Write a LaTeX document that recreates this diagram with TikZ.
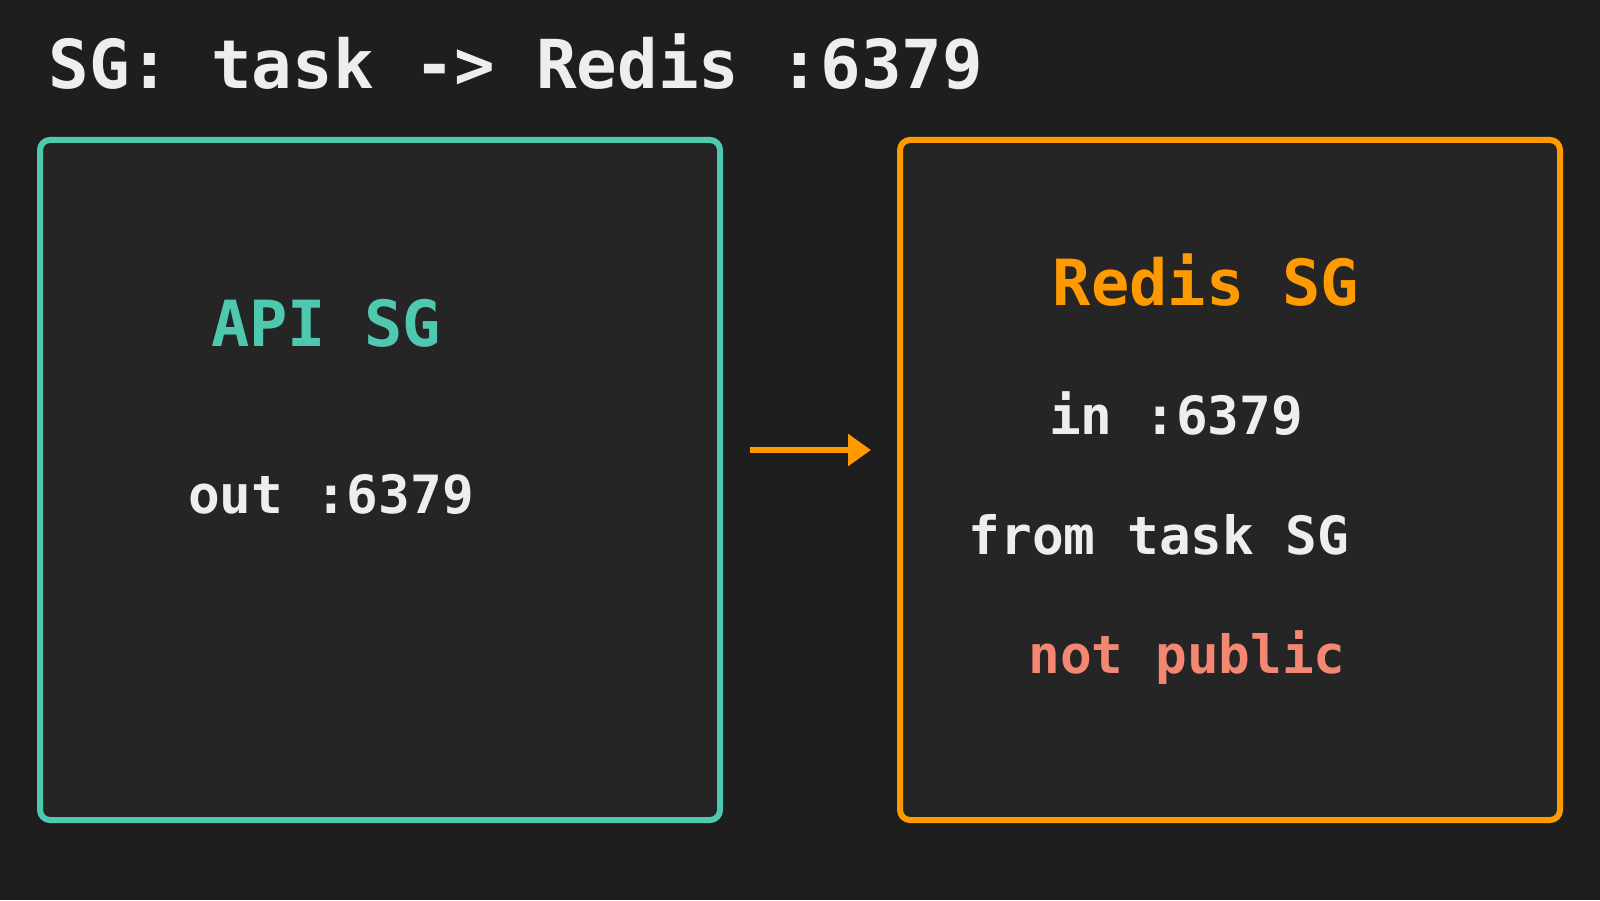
\documentclass[tikz,border=0pt]{standalone}
\usepackage{fontspec}
\setmonofont{DejaVu Sans Mono}
\usetikzlibrary{arrows.meta,positioning}

\definecolor{bgdark}{HTML}{1E1E1E}
\definecolor{boxfill}{HTML}{252526}
\definecolor{tealsg}{HTML}{4EC9B0}
\definecolor{orangesg}{HTML}{FF9A00}
\definecolor{salmon}{HTML}{F48771}
\definecolor{lighttext}{HTML}{EEEEEE}

\begin{document}
\begin{tikzpicture}[
            > = {Triangle[length=2.3mm,width=3.1mm]}, % arrow head style
            every node/.style = {inner sep=0pt},
            big/.style = {font=\ttfamily\bfseries\fontsize{18.1pt}{20pt}\selectfont, anchor=base},
            small/.style = {font=\ttfamily\bfseries\fontsize{15.0pt}{17pt}\selectfont, anchor=base, text=lighttext}
        ]

        \tikzstyle{sgbox}=[
            draw,
            line width = 0.6mm,
            rounded corners = 1mm,
            fill = boxfill
        ]

        % background and page size
        \fill[bgdark] (0,0) rectangle (16,9);
        \useasboundingbox (0,0) rectangle (16,9);

        \node[anchor=base west, text=lighttext,
              font=\ttfamily\bfseries\fontsize{19.2pt}{21pt}\selectfont] (title) at (0.48,8.11) {SG: task -> Redis :6379};

        \node[sgbox, draw=tealsg, minimum width=6.80cm, minimum height=6.80cm] (apibox) at (3.80,4.20) {};
        \node[sgbox, draw=orangesg, minimum width=6.60cm, minimum height=6.80cm] (redisbox) at (12.30,4.20) {};

        \node[big, text=tealsg] (apisg) at (3.26,5.54) {API SG};
        \node[small] (out) at (3.31,3.87) {out :6379};

        \node[big, text=orangesg] (redissg) at (12.06,5.95) {Redis SG};
        \node[small] (in) at (11.76,4.66) {in :6379};
        \node[small] (from) at (11.59,3.46) {from task SG};
        \node[small, text=salmon] (notpub) at (11.87,2.27) {not public};

        \draw[->, orangesg, line width=0.6mm, shorten <=2.7mm, shorten >=2.6mm]
            ([yshift=3.0mm]apibox.east) -- ([yshift=3.0mm]redisbox.west);

    \end{tikzpicture}
\end{document}
